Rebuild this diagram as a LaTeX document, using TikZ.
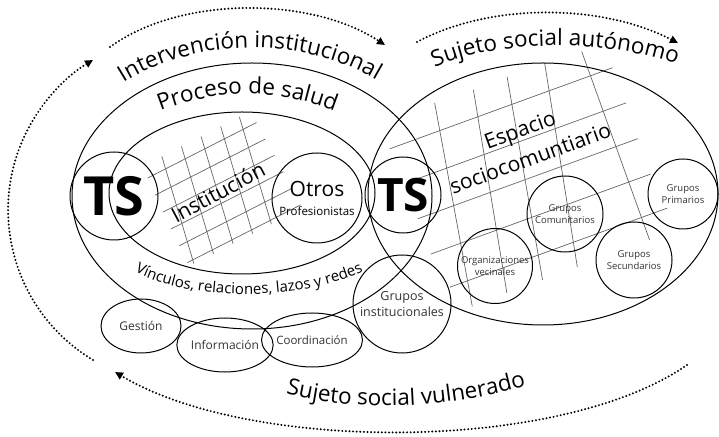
\documentclass[tikz,border=0pt]{standalone}
\usepackage{fontspec}
\setmainfont{Open Sans}
\usetikzlibrary{shapes.geometric,arrows.meta,decorations.text}

\newcommand{\arcofuente}{\fontsize{22.5}{26}\selectfont}
\newcommand{\lazofuente}{\fontsize{15}{17}\selectfont}

\begin{document}
\begin{tikzpicture}[x=1pt,y=1pt,
marco/.style={ellipse,draw,line width=1pt,inner sep=0pt},
grupo/.style={circle,draw,line width=1pt,inner sep=0pt,align=center,text=black!80,
font=\fontsize{9.5}{12}\selectfont},
accion/.style={ellipse,draw,line width=1pt,inner sep=0pt,minimum width=80pt,
minimum height=54pt,text=black!80,font=\fontsize{12}{14}\selectfont},
ts/.style={circle,draw,line width=1pt,inner sep=0pt,font=\bfseries},
rejilla/.style={black!60,line width=0.7pt},
flujo/.style={line width=2.2pt,dash pattern=on 0pt off 3.6pt,line cap=round,
-{Triangle[length=8pt,width=7.5pt]}},
arco/.style={decorate,decoration={text along path,text align=center,text={#1}}}]
    \useasboundingbox (0,0) rectangle (719,436);

    \begin{scope}[shift={(220,243)},x={(0.891pt,0.454pt)},y={(-0.286pt,0.958pt)}]
    \foreach \b/\a/\e in {47/-66/56,28/-64/60,9/-61/64,-10/-58/68,-29/-55/72,-48/-52/75}
        \draw[rejilla] (\a,\b) -- (\e,\b);
    \foreach \a in {-46,-24,-2,20,41}
        \draw[rejilla] (\a,-52) -- (\a,60);
    \end{scope}
    \begin{scope}[shift={(527,257)},x={(0.940pt,0.342pt)},y={(-0.21pt,0.978pt)}]
    \foreach \b/\a/\e in {76/-129/108,38/-107/114,0/-116/118,-38/-111/123,-76/-99/132}
        \draw[rejilla] (\a,\b) -- (\e,\b);
    \foreach \a/\b/\c/\d in {-81/-102/-75/104,-44/-101/-34/103,-6/-101/2/104,31/-101/42/104,108/-100/81/102}
        \draw[rejilla] (\a,\b) -- (\c,\d);
    \end{scope}

    \node[marco,minimum width=360pt,minimum height=266pt] (salud) at (252,240) {};
    \node[marco,minimum width=350pt,minimum height=262pt] (autonomo) at (543,242) {};
    \node[marco,minimum width=266pt,minimum height=162pt] (institucion) at (242,243) {};

    \node[ts,minimum size=88pt,font=\fontsize{54}{54}\selectfont\bfseries] (tsizq) at (114,240) {TS};
    \node[ts,minimum size=76pt,font=\fontsize{46}{46}\selectfont\bfseries] (tsder) at (403,241) {TS};
    \node[grupo,minimum size=90pt,text=black,font=\fontsize{21}{19}\selectfont] (otros) at (317,238)
        {Otros\\{\fontsize{11.5}{13}\selectfont Profesionistas}};
    \node[grupo,minimum size=98pt,font=\fontsize{12.5}{16}\selectfont] (institucionales) at (402,132)
        {Grupos\\institucionales};

    \node[accion] (gestion) at (141,110) {Gestión};
    \node[accion] (informacion) at (225,91) {Información};
    \node[accion,font=\fontsize{11.5}{14}\selectfont] (coordinacion) at (312,96) {Coordinación};

    \node[grupo,minimum size=75pt] (vecinales) at (495,170) {Organizaciones\\vecinales};
    \node[grupo,minimum size=76pt] (comunitarios) at (565,222) {Grupos\\Comunitarios};
    \node[grupo,minimum size=76pt] (secundarios) at (634,176) {Grupos\\Secundarios};
    \node[grupo,minimum size=70pt] (primarios) at (683,242) {Grupos\\Primarios};

    \node[font=\fontsize{21}{24}\selectfont,rotate=28] (etiqinst) at (218,244) {Institución};
    \node[font=\fontsize{21}{30}\selectfont,rotate=20,align=center] (etiqesp) at (525,292)
        {Espacio\\sociocomuntiario};

    \path[arco={|\arcofuente|Intervención institucional}] (120,351) .. controls (195,400) and (305,400) .. (380,354);
    \path[arco={|\arcofuente|Proceso de salud}] (158,324) .. controls (218,348) and (277,348) .. (337,324);
    \path[arco={|\arcofuente|Sujeto social autónomo}] (433,368) .. controls (495,397) and (610,397) .. (678,371);
    \path[arco={|\arcofuente|Sujeto social vulnerado}] (283,43) .. controls (350,25) and (440,25) .. (529,51);
    \path[arco={|\lazofuente|Vínculos, relaciones, lazos y redes}] (134,165) .. controls (190,134) and (300,134) .. (364,165);

    \coordinate (izqini) at (93,76);
    \coordinate (supini) at (110,389);
    \coordinate (supfin) at (385,391);
    \coordinate (derini) at (417,394);
    \coordinate (derfin) at (678,393);
    \coordinate (infini) at (687,71);
    \coordinate (inffin) at (115,64);
    \draw[flujo] (izqini) arc[start angle=239,end angle=121,radius=175];
    \draw[flujo] (supini) .. controls (180,440) and (310,440) .. (supfin);
    \draw[flujo] (derini) .. controls (490,433) and (600,433) .. (derfin);
    \draw[flujo] (infini) .. controls (560,-17) and (250,-17) .. (inffin);
\end{tikzpicture}
\end{document}
